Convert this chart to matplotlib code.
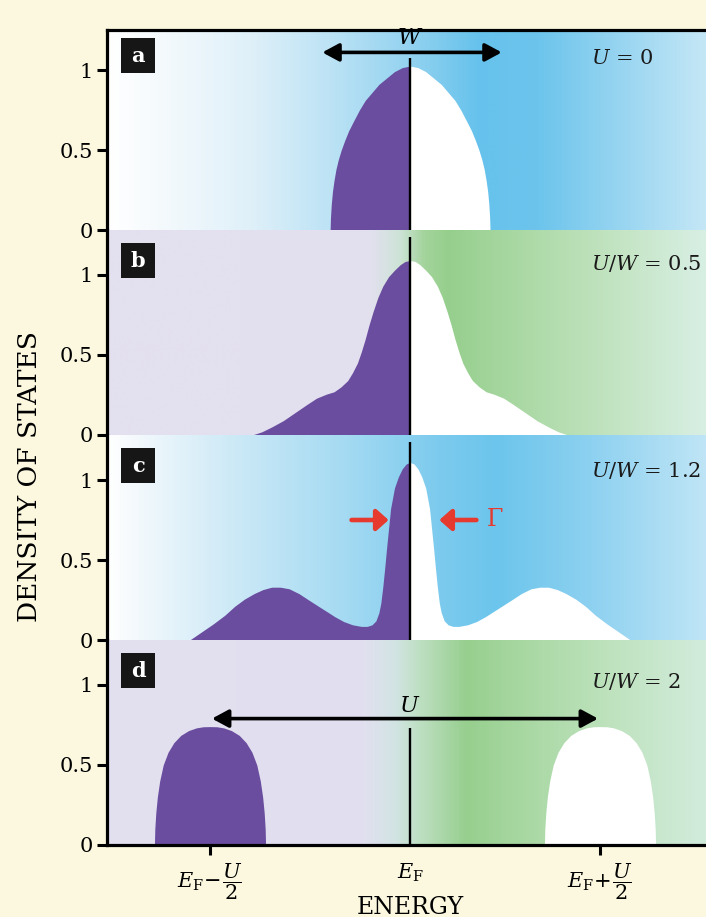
import numpy as np
import matplotlib
matplotlib.use("Agg")
import matplotlib.pyplot as plt
from matplotlib.colors import LinearSegmentedColormap
from matplotlib.patches import Rectangle

plt.rcParams['font.family'] = ['DejaVu Serif']
plt.rcParams['mathtext.fontset'] = 'dejavuserif'

# ---------------- data ----------------
ef = 0.026                      # Fermi energy position on the energy axis
x_ticks = [-1.0, ef, 1.0]
x_ticklabels = [r'$E_{\rm F}\!-\!\dfrac{U}{2}$', r'$E_{\rm F}$', r'$E_{\rm F}\!+\!\dfrac{U}{2}$']
y_ticks = [0, 0.5, 1]
y_ticklabels = ['0', '0.5', '1']

panel_letters = ['a', 'b', 'c', 'd']
panel_titles = [r'$U$ = 0', r'$U/W$ = 0.5', r'$U/W$ = 1.2', r'$U/W$ = 2']
title_y = [1.075, 1.075, 1.06, 1.02]

# (a) U = 0 : half band, offsets from E_F
a_dx = [-0.41, -0.408, -0.404, -0.398, -0.39, -0.38, -0.368, -0.353, -0.335, -0.315,
        -0.29, -0.26, -0.23, -0.195, -0.16, -0.12, -0.08, -0.04, 0.0]
a_y = [0.0, 0.08, 0.16, 0.24, 0.31, 0.38, 0.44, 0.5, 0.56, 0.62,
       0.68, 0.75, 0.81, 0.86, 0.91, 0.95, 0.99, 1.015, 1.025]
# (b) U/W = 0.5
b_dx = [-0.81, -0.76, -0.71, -0.65, -0.59, -0.53, -0.48, -0.43, -0.39, -0.355, -0.32, -0.295,
        -0.27, -0.25, -0.23, -0.21, -0.19, -0.165, -0.14, -0.11, -0.08, -0.05, -0.025, 0.0]
b_y = [0.0, 0.02, 0.05, 0.09, 0.14, 0.19, 0.23, 0.255, 0.27, 0.30, 0.34, 0.39,
       0.45, 0.52, 0.60, 0.69, 0.77, 0.86, 0.93, 0.99, 1.03, 1.065, 1.085, 1.09]
# (c) U/W = 1.2
c_dx = [-1.13, -1.07, -1.01, -0.95, -0.90, -0.85, -0.80, -0.755, -0.71, -0.665, -0.62, -0.57,
        -0.52, -0.475, -0.43, -0.385, -0.34, -0.295, -0.25, -0.22, -0.195, -0.175, -0.16,
        -0.15, -0.14, -0.13, -0.12, -0.11, -0.10, -0.08, -0.06, -0.04, -0.02, 0.0]
c_y = [0.0, 0.05, 0.10, 0.155, 0.21, 0.255, 0.29, 0.315, 0.33, 0.33, 0.32, 0.29,
       0.25, 0.215, 0.18, 0.145, 0.115, 0.095, 0.085, 0.085, 0.095, 0.12, 0.17,
       0.23, 0.33, 0.45, 0.58, 0.70, 0.82, 0.95, 1.02, 1.07, 1.10, 1.11]
# (d) U/W = 2 : Hubbard bands, offsets from band centres
d_centers = [-1.0, 1.0]
d_dx = [-0.285, -0.283, -0.278, -0.27, -0.258, -0.24, -0.215, -0.185, -0.15, -0.11,
        -0.07, -0.035, 0.0]
d_y = [0.0, 0.1, 0.2, 0.3, 0.4, 0.5, 0.58, 0.64, 0.685, 0.715,
       0.732, 0.739, 0.74]

ef_line_top = [1.075, 1.24, 1.24, 0.73]

# background gradients (position along panel, colour)
bg_a = [(0.0, '#ffffff'), (0.07, '#f7fbfd'), (0.24, '#dff0f9'), (0.37, '#bde3f5'),
        (0.51, '#92d2f0'), (0.62, '#66c2ec'), (0.72, '#6cc4ec'), (0.86, '#98d5f1'), (1.0, '#c4e7f6')]
bg_b = [(0.0, '#e4e0f0'), (0.44, '#e2e0ef'), (0.49, '#cde3d6'), (0.53, '#a3d49b'),
        (0.57, '#96cf8d'), (0.7, '#acd9a6'), (0.85, '#c3e4c2'), (1.0, '#d8efe4')]
bg_c = [(0.0, '#ffffff'), (0.04, '#f5fafd'), (0.2, '#cfeaf7'), (0.4, '#a4daf2'),
        (0.55, '#7dcbee'), (0.65, '#6cc5ec'), (0.8, '#8bd0f0'), (1.0, '#bfe5f6')]
bg_d = [(0.0, '#e3dff0'), (0.43, '#e1e0ef'), (0.48, '#d2e4e4'), (0.52, '#bfe0c4'),
        (0.6, '#97cf8e'), (0.7, '#a9d8a3'), (0.85, '#bfe3bf'), (1.0, '#d2ecdc')]

PURPLE = '#6a4d9f'
RED = '#e63a2e'

# ---------------- figure ----------------
W, H = 706, 917
fig = plt.figure(figsize=(W / 100, H / 100), dpi=100)
fig.patch.set_facecolor('#fbf8df')

left_px, right_px = 107, 706
bounds = [(30, 230), (230, 435), (435, 640), (640, 845)]
px_per_unit_y = 160.0
x0_px, px_per_unit_x = 405.0, 195.0
xlim = ((left_px - x0_px) / px_per_unit_x, (right_px - x0_px) / px_per_unit_x)

curves = [(a_dx, a_y), (b_dx, b_y), (c_dx, c_y)]
bgs = [bg_a, bg_b, bg_c, bg_d]
axes = []
for i, (top, bot) in enumerate(bounds):
    ax = fig.add_axes([left_px / W, 1 - bot / H, (right_px - left_px) / W, (bot - top) / H])
    axes.append(ax)
    ax.set_xlim(*xlim)
    ax.set_ylim(0, (bot - top) / px_per_unit_y)
    cmap = LinearSegmentedColormap.from_list('bg%d' % i, bgs[i])
    ax.imshow(np.linspace(0, 1, 512)[None, :], cmap=cmap, aspect='auto',
              extent=[0, 1, 0, 1], transform=ax.transAxes, zorder=0, interpolation='bicubic')

    if i < 3:
        dx, yy = curves[i]
        dx = np.array(dx)
        yy = np.array(yy)
        ax.fill_between(ef + dx, yy, 0, color=PURPLE, lw=0, zorder=2)
        ax.fill_between(ef - dx[::-1], yy[::-1], 0, color='white', lw=0, zorder=2)
    else:
        dx = np.array(d_dx)
        yy = np.array(d_y)
        full_dx = np.concatenate([dx, -dx[::-1][1:]])
        full_y = np.concatenate([yy, yy[::-1][1:]])
        ax.fill_between(d_centers[0] + full_dx, full_y, 0, color=PURPLE, lw=0, zorder=2)
        ax.fill_between(d_centers[1] + full_dx, full_y, 0, color='white', lw=0, zorder=2)

    ax.plot([ef, ef], [0, ef_line_top[i]], color='black', lw=1.7, zorder=3,
            solid_capstyle='butt')

    # spines
    ax.spines['right'].set_visible(False)
    ax.spines['top'].set_visible(i == 0)
    ax.spines['bottom'].set_visible(i == 3)
    for s in ['left', 'top', 'bottom']:
        ax.spines[s].set_linewidth(2.3)
        ax.spines[s].set_zorder(5)

    ax.set_yticks(y_ticks)
    ax.set_yticklabels(y_ticklabels)
    ax.tick_params(axis='y', direction='out', length=7, width=2.2, labelsize=15, pad=3)
    if i == 3:
        ax.set_xticks(x_ticks)
        ax.set_xticklabels(x_ticklabels)
        ax.tick_params(axis='x', direction='out', length=7, width=2.2, labelsize=15, pad=5)
        ax.xaxis.get_major_ticks()[1].tick1line.set_visible(False)
    else:
        ax.set_xticks([])

    # panel letter box
    ax.add_patch(Rectangle((-1.456, 0.98), 0.174, 0.22, facecolor='#161616',
                           edgecolor='none', zorder=6))
    ax.text(-1.369, 1.09, panel_letters[i], color='white', fontsize=15, fontweight='bold',
            ha='center', va='center', zorder=7)
    ax.text(0.955, title_y[i], panel_titles[i], fontsize=15, ha='left', va='center',
            color='#1a1a1a', zorder=7)

# annotations
arrow_kw = dict(arrowstyle='<|-|>,head_length=0.5,head_width=0.27', lw=2.6, color='black',
                shrinkA=0, shrinkB=0, mutation_scale=20)
axes[0].annotate('', xy=(ef + 0.47, 1.11), xytext=(ef - 0.45, 1.11), arrowprops=arrow_kw, zorder=8)
axes[0].text(ef, 1.2, r'$W$', fontsize=16, ha='center', va='center', zorder=8)

axes[3].annotate('', xy=(d_centers[1] - 0.01, 0.79), xytext=(d_centers[0] + 0.01, 0.79),
                 arrowprops=arrow_kw, zorder=8)
axes[3].text(ef, 0.87, r'$U$', fontsize=16, ha='center', va='center', zorder=8)

red_kw = dict(arrowstyle='-|>,head_length=0.45,head_width=0.4', lw=3.3, color=RED,
              shrinkA=0, shrinkB=0, mutation_scale=16)
axes[2].annotate('', xy=(ef - 0.11, 0.75), xytext=(ef - 0.30, 0.75), arrowprops=red_kw, zorder=8)
axes[2].annotate('', xy=(ef + 0.15, 0.75), xytext=(ef + 0.34, 0.75), arrowprops=red_kw, zorder=8)
axes[2].text(0.415, 0.75, r'$\Gamma$', color=RED, fontsize=17, ha='left', va='center', zorder=8)

fig.text(410 / W, 1 - 907 / H, 'ENERGY', fontsize=17, ha='center', va='center')
fig.text(30 / W, 1 - 477 / H, 'DENSITY OF STATES', fontsize=19, ha='center', va='center',
         rotation=90)

fig.savefig('out.png', dpi=100, facecolor=fig.get_facecolor())
